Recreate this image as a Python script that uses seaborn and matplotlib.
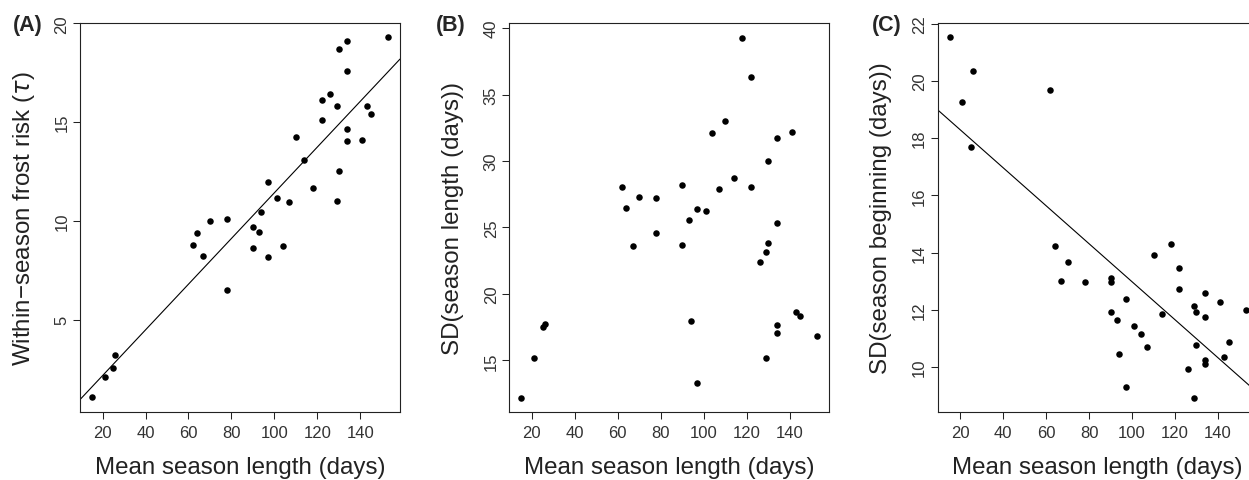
import numpy as np
import pandas as pd
import seaborn as sns
import matplotlib.pyplot as plt

# mean season length (days) per site
season_len = [15, 21, 25, 26, 62, 64, 67, 70, 78, 78, 90, 90, 93, 94, 97, 97, 101, 104, 107,
              110, 114, 118, 122, 122, 126, 129, 129, 130, 130, 134, 134, 134, 134, 141, 143, 145, 153]
frost_risk = [1.08, 2.10, 2.56, 3.23, 8.77, 9.37, 8.21, 10.0, 10.09, 6.52, 9.72, 8.64, 9.44, 10.45,
              11.97, 8.19, 11.16, 8.72, 10.96, 14.27, 13.08, 11.68, 16.14, 15.13, 16.43, 15.82, 10.99,
              18.70, 12.53, 19.12, 17.59, 14.65, 14.04, 14.09, 15.82, 15.43, 19.29]
sd_length = [12.18, 15.17, 17.52, 17.77, 28.05, 26.49, 23.58, 27.29, 27.22, 24.56, 28.22, 23.71, 25.56,
             17.99, 26.39, 13.33, 26.22, 32.13, 27.87, 32.98, 28.74, 39.27, 36.32, 28.07, 22.41, 23.13,
             15.21, 30.0, 23.81, 31.75, 25.32, 17.67, 17.07, 32.2, 18.62, 18.37, 16.84]

season_len_c = [15, 21, 25, 26, 62, 64, 67, 70, 78, 90, 90, 90, 93, 94, 97, 97, 101, 104, 107,
                110, 114, 118, 122, 122, 126, 129, 129, 130, 130, 134, 134, 134, 134, 141, 143, 145, 153]
sd_begin = [21.52, 19.27, 17.70, 20.33, 19.69, 14.24, 13.0, 13.67, 12.97, 13.11, 12.97, 11.92, 11.63,
            10.46, 12.38, 9.31, 11.45, 11.16, 10.70, 13.93, 11.86, 14.30, 13.47, 12.72, 9.94, 12.15,
            8.92, 11.93, 10.78, 12.58, 11.74, 10.23, 10.09, 12.29, 10.36, 10.89, 12.0]

xticks = [20, 40, 60, 80, 100, 120, 140]

sns.set_style("ticks")
plt.rcParams["font.family"] = ["Liberation Sans", "DejaVu Sans"]

W, H = 1249, 481
fig = plt.figure(figsize=(W / 100, H / 100), dpi=100)

def make_ax(left_px):
    return fig.add_axes([left_px / W, (H - 412.7) / H, 320 / W, 388.7 / H])

ax_a = make_ax(80)
ax_b = make_ax(509.3)
ax_c = make_ax(937.7)

pts = dict(s=22, color="black", alpha=1, linewidths=0)
line = dict(color="black", lw=0.8)

ax_a.set_xlim(9.5, 158.5)
ax_a.set_ylim(0.35, 20.02)
sns.regplot(x=season_len, y=frost_risk, ax=ax_a, ci=None, truncate=False,
            scatter_kws=pts, line_kws=line)
ax_a.set_yticks([5, 10, 15, 20])
ax_a.set_ylabel("Within\u2212season frost risk ($\\tau$)")

ax_b.set_xlim(9.5, 158.5)
ax_b.set_ylim(11.14, 40.38)
sns.scatterplot(x=season_len, y=sd_length, ax=ax_b, **pts)
ax_b.set_yticks([15, 20, 25, 30, 35, 40])
ax_b.set_ylabel("SD(season length (days))")

ax_c.set_xlim(9.5, 158.5)
ax_c.set_ylim(8.44, 22.02)
sns.regplot(x=season_len_c, y=sd_begin, ax=ax_c, ci=None, truncate=False,
            scatter_kws=pts, line_kws=line)
ax_c.set_yticks([10, 12, 14, 16, 18, 20, 22])
ax_c.set_ylabel("SD(season beginning (days))")

for ax, tag in zip([ax_a, ax_b, ax_c], ["(A)", "(B)", "(C)"]):
    ax.set_xticks(xticks)
    ax.set_xlabel("Mean season length (days)", fontsize=17.4, va="center")
    ax.yaxis.label.set_fontsize(17.4)
    ax.yaxis.label.set_va("center")
    ax.xaxis.set_label_coords(0.5, -0.1423)
    ax.yaxis.set_label_coords(-0.176, 0.5)
    ax.tick_params(axis="both", direction="out", length=5, width=0.75,
                   labelsize=12, colors="#222222", labelcolor="#333333")
    ax.tick_params(axis="x", pad=4.5)
    ax.tick_params(axis="y", pad=2.6, labelrotation=90)
    for lab in ax.get_yticklabels():
        lab.set_va("center")
    for sp in ax.spines.values():
        sp.set_visible(True)
        sp.set_linewidth(0.8)
        sp.set_color("#222222")
    ax.xaxis.label.set_color("#222222")
    ax.yaxis.label.set_color("#222222")

fig.text(27.7 / W, 1 - 25.8 / H, "(A)", fontsize=15.5, fontweight="bold", ha="center", va="center")
fig.text(451 / W, 1 - 25.8 / H, "(B)", fontsize=15.5, fontweight="bold", ha="center", va="center")
fig.text(886.7 / W, 1 - 25.8 / H, "(C)", fontsize=15.5, fontweight="bold", ha="center", va="center")

fig.savefig("out.png", dpi=100)
